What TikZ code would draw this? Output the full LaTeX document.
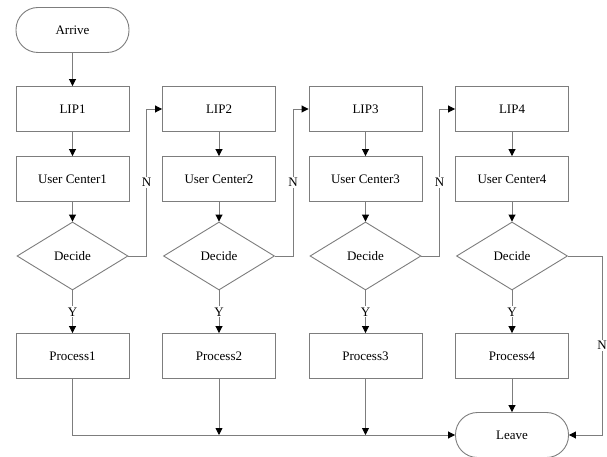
\documentclass[tikz,border=0pt]{standalone}
\usepackage{fontspec}
\setmainfont{Liberation Serif}
\usetikzlibrary{shapes.geometric,arrows.meta}
\definecolor{ln}{RGB}{125,125,125}
\begin{document}
\begin{tikzpicture}[x=1pt,y=-1pt,
  box/.style={draw=ln, line width=0.9pt, minimum width=113pt, minimum height=45pt, inner sep=0pt, font=\fontsize{13}{15}\selectfont},
  term/.style={box, rounded corners=22pt},
  dec/.style={diamond, draw=ln, line width=0.9pt, minimum width=111pt, minimum height=68pt, inner sep=0pt, font=\fontsize{13}{15}\selectfont},
  arr/.style={draw=ln, line width=0.9pt, -{Triangle[length=7pt,width=7pt,color=black]}},
  lbl/.style={fill=white, inner sep=1pt, font=\fontsize{13}{15}\selectfont}]
\useasboundingbox (0,0) rectangle (607,457);
\node[term] (arrive) at (72.5,30) {Arrive};
\node[box] (lip1) at (72.5,109) {LIP1};
\node[box] (lip2) at (219,109) {LIP2};
\node[box] (lip3) at (365.5,109) {LIP3};
\node[box] (lip4) at (512,109) {LIP4};
\node[box] (uc1) at (72.5,179) {User Center1};
\node[box] (uc2) at (219,179) {User Center2};
\node[box] (uc3) at (365.5,179) {User Center3};
\node[box] (uc4) at (512,179) {User Center4};
\node[dec] (d1) at (72.5,256) {Decide};
\node[dec] (d2) at (219,256) {Decide};
\node[dec] (d3) at (365.5,256) {Decide};
\node[dec] (d4) at (512,256) {Decide};
\node[box] (p1) at (72.5,356) {Process1};
\node[box] (p2) at (219,356) {Process2};
\node[box] (p3) at (365.5,356) {Process3};
\node[box] (p4) at (512,356) {Process4};
\node[term] (leave) at (512,435) {Leave};
\draw[arr] (arrive) -- (lip1);
\foreach \i in {1,2,3,4}{
  \draw[arr] (lip\i) -- (uc\i);
  \draw[arr] (uc\i) -- (d\i);
  \draw[arr] (d\i) -- node[lbl]{Y} (p\i);
}
\draw[arr] (d1.east) -- ++(18,0) |- (lip2.west) node[lbl,pos=0.25]{N};
\draw[arr] (d2.east) -- ++(18,0) |- (lip3.west) node[lbl,pos=0.25]{N};
\draw[arr] (d3.east) -- ++(18,0) |- (lip4.west) node[lbl,pos=0.25]{N};
\draw[arr] (d4.east) -- ++(34,0) |- (leave.east) node[lbl,pos=0.25]{N};
\draw[arr] (p1.south) |- (leave.west);
\draw[arr] (p2.south) -- (p2.south |- leave.west);
\draw[arr] (p3.south) -- (p3.south |- leave.west);
\draw[arr] (p4) -- (leave);
\end{tikzpicture}
\end{document}
